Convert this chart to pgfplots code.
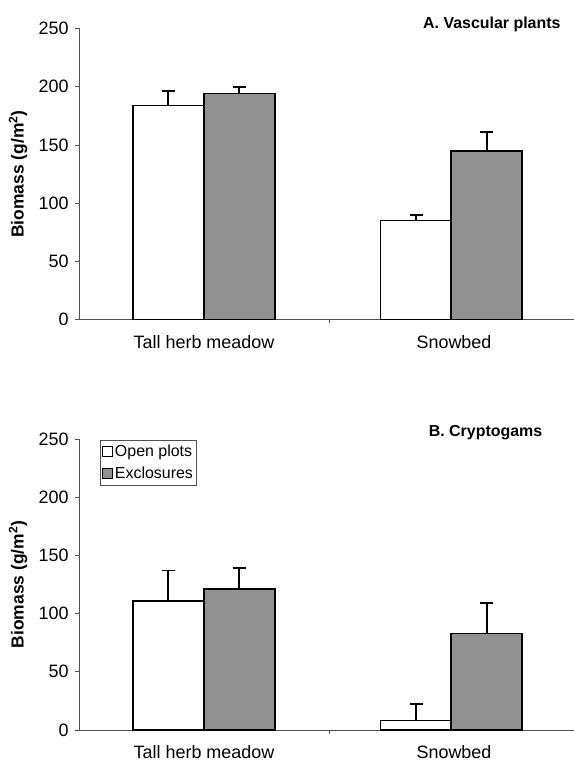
\documentclass[border=0pt]{standalone}
\usepackage{fontspec}
\setmainfont{Liberation Sans}
\usepackage{pgfplots}
\pgfplotsset{compat=1.18}
\definecolor{excl}{RGB}{145,145,145}
\definecolor{axisgray}{RGB}{80,80,80}

\pgfplotsset{
 panel/.style={
  scale only axis, width=495bp, height=291bp,
  xmin=-0.5, xmax=1.48, ymin=0, ymax=250,
  axis x line*=bottom, axis y line*=left,
  axis line style={-, draw=axisgray, line width=0.6bp},
  ytick={0,50,...,250},
  tick align=outside, major tick length=4bp,
  tick style={draw=axisgray, line width=0.6bp},
  xtick={0.5}, xticklabels={},
  extra x ticks={0,1},
  extra x tick labels={Tall herb meadow, Snowbed},
  extra x tick style={major tick length=0pt, xticklabel style={yshift=-12bp}},
  ticklabel style={font=\fontsize{18}{21}\selectfont},
  yticklabel style={xshift=-3bp},
  /pgf/number format/assume math mode=true,
  ylabel={Biomass (g/m\textsuperscript{2})},
  ylabel style={at={(axis description cs:-0.1232,0.5)}, anchor=center, font=\fontsize{17.5}{20}\selectfont\bfseries},
  clip=false,
  ybar, bar width=0.284,
 },
 barstyle/.style={bar shift=0pt, draw=black, line width=1.6bp,
  /pgfplots/error bars/y dir=plus, /pgfplots/error bars/y explicit,
  /pgfplots/error bars/error bar style={line width=1.8bp, black},
  /pgfplots/error bars/error mark options={rotate=90, mark size=6.5bp, line width=1.8bp, black}},
}

\begin{document}
\begin{tikzpicture}
\path[use as bounding box] (0,0) rectangle (574bp,767bp);

\begin{axis}[panel, at={(79bp,447.5bp)}, anchor=south west]
\addplot[barstyle, fill=white] coordinates {(-0.143,184) +- (0,12) (0.848,85) +- (0,5)};
\addplot[barstyle, fill=excl] coordinates {(0.141,194) +- (0,6) (1.131,145) +- (0,16)};
\node[anchor=base east, font=\fontsize{16}{18}\selectfont\bfseries] at (axis cs:1.44,250) {A. Vascular plants};
\end{axis}

\begin{axis}[panel, at={(79bp,37bp)}, anchor=south west,
  legend style={at={(axis cs:-0.416,249.2)}, anchor=north west, draw=axisgray, line width=0.6bp,
    font=\fontsize{16}{19}\selectfont, inner xsep=1.5bp, inner ysep=3bp, row sep=5bp, cells={anchor=west}},
  legend image code/.code={\draw[#1, line width=1.2bp] (0bp,-5bp) rectangle (10bp,5bp);}]
\addplot[barstyle, fill=white] coordinates {(-0.143,111) +- (0,26) (0.848,8) +- (0,14)};
\addlegendentry{Open plots}
\addplot[barstyle, fill=excl] coordinates {(0.141,121) +- (0,18) (1.131,83) +- (0,26)};
\addlegendentry{Exclosures}
\node[anchor=base east, font=\fontsize{16}{18}\selectfont\bfseries] at (axis cs:1.367,252.5) {B. Cryptogams};
\end{axis}
\end{tikzpicture}
\end{document}
